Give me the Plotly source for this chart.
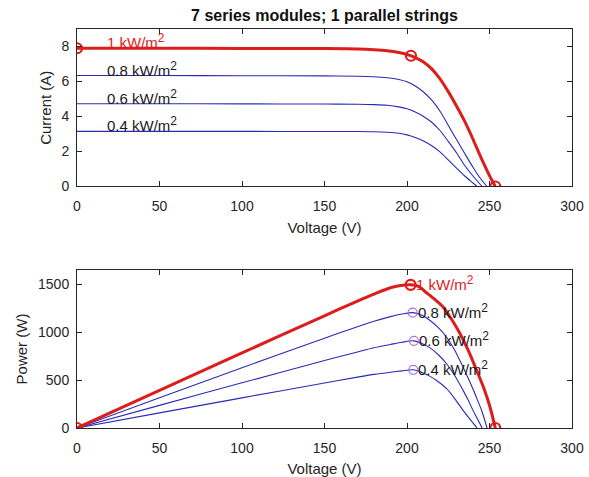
import plotly.graph_objects as go

# ---------------- data ----------------
# I-V curves (top panel)
iv_v_100 = [0, 50, 100, 150, 170, 180, 188, 195, 200, 205, 210, 215, 220, 225, 230, 235, 240, 245, 250, 253.5]
iv_i_100 = [7.9, 7.9, 7.89, 7.88, 7.86, 7.82, 7.76, 7.66, 7.55, 7.37, 7.12, 6.72, 6.15, 5.42, 4.6, 3.72, 2.7, 1.62, 0.62, 0]

iv_v_080 = [0, 50, 100, 150, 170, 180, 188, 195, 200, 205, 210, 215, 220, 225, 230, 235, 240, 244.2, 248.5]
iv_i_080 = [6.34, 6.34, 6.33, 6.32, 6.3, 6.27, 6.21, 6.11, 5.98, 5.74, 5.4, 4.93, 4.3, 3.5, 2.68, 1.88, 1.1, 0.5, 0]

iv_v_060 = [0, 50, 100, 150, 170, 180, 188, 195, 200, 205, 210, 215, 220, 225, 230, 235, 240, 245.5]
iv_i_060 = [4.73, 4.73, 4.72, 4.71, 4.7, 4.68, 4.64, 4.55, 4.44, 4.25, 4.0, 3.67, 3.2, 2.58, 1.93, 1.2, 0.6, 0]

iv_v_040 = [0, 50, 100, 150, 170, 180, 188, 195, 200, 205, 210, 215, 220, 225, 230, 235, 240, 242.5]
iv_i_040 = [3.15, 3.15, 3.15, 3.14, 3.14, 3.13, 3.1, 3.04, 2.95, 2.8, 2.6, 2.33, 1.98, 1.52, 1.05, 0.6, 0.2, 0]

# P-V curves (bottom panel)
pv_v_100 = [0, 50, 100, 150, 170, 180, 190, 196, 202.2, 207, 212, 217, 222, 227, 232, 237, 242, 246.3, 250.3, 253.5]
pv_p_100 = [0, 393, 784, 1172, 1326, 1399, 1465, 1487, 1495, 1478, 1410, 1340, 1262, 1135, 990, 815, 610, 427, 219, 0]

pv_v_080 = [0, 50, 100, 150, 170, 180, 190, 197, 203.4, 209, 214, 219, 224, 229, 234, 238, 242, 245.5, 248.5]
pv_p_080 = [0, 315, 629, 938, 1058, 1114, 1163, 1190, 1205, 1178, 1122, 1047, 948, 810, 635, 485, 323, 170, 0]

pv_v_060 = [0, 50, 100, 150, 170, 180, 190, 197, 204.2, 209, 214, 219, 224, 229, 234, 237, 240, 243, 245.5]
pv_p_060 = [0, 236, 472, 704, 794, 838, 872, 895, 910, 882, 837, 765, 671, 545, 393, 295, 184, 85, 0]

pv_v_040 = [0, 50, 100, 150, 170, 180, 190, 197, 203.8, 209, 214, 219, 224, 229, 234, 238, 242.5]
pv_p_040 = [0, 158, 315, 470, 531, 560, 583, 597, 608, 580, 539, 483, 410, 305, 184, 95, 0]

# marked points
iv_mark_v = [0, 202.4, 253.5]
iv_mark_i = [7.9, 7.47, 0]
pv_mark_v = [0, 202.2, 253.5]
pv_mark_p = [0, 1495, 0]
mpp_v = [203.4, 204.2, 203.8]
mpp_p = [1205, 910, 608]

labels = ["1 kW/m", "0.8 kW/m", "0.6 kW/m", "0.4 kW/m"]
label_v_top = 17
label_i_top = [7.9, 6.34, 4.73, 3.15]
label_v_bot = [202.2, 203.4, 204.2, 203.8]
label_p_bot = [1495, 1205, 910, 608]

title_text = "7 series modules; 1 parallel strings"
x_ticks = [0, 50, 100, 150, 200, 250, 300]
i_ticks = [0, 2, 4, 6, 8]
p_ticks = [0, 500, 1000, 1500]

# ---------------- styling ----------------
RED = "#dd1c1c"
BLUE = "#2a2ab8"
PURPLE = "#b070e0"
AX = "#262626"
FONT = "Liberation Sans, Arial, sans-serif"
SUP = "<sup><span style='font-size:12px'>2</span></sup>"

fig = go.Figure()
LS = dict(shape="spline", smoothing=0.8)

blue_iv = [(iv_v_080, iv_i_080), (iv_v_060, iv_i_060), (iv_v_040, iv_i_040)]
for v, i in blue_iv:
    fig.add_trace(go.Scatter(x=v, y=i, mode="lines", line=dict(color=BLUE, width=1.1, **LS),
                             xaxis="x", yaxis="y", showlegend=False, hoverinfo="skip"))
fig.add_trace(go.Scatter(x=iv_v_100, y=iv_i_100, mode="lines", line=dict(color=RED, width=3, **LS),
                         xaxis="x", yaxis="y", showlegend=False))
fig.add_trace(go.Scatter(x=iv_mark_v, y=iv_mark_i, mode="markers",
                         marker=dict(symbol="circle-open", size=10, color=RED, line=dict(width=2.2, color=RED)),
                         xaxis="x", yaxis="y", showlegend=False))

blue_pv = [(pv_v_080, pv_p_080), (pv_v_060, pv_p_060), (pv_v_040, pv_p_040)]
for v, p in blue_pv:
    fig.add_trace(go.Scatter(x=v, y=p, mode="lines", line=dict(color=BLUE, width=1.1, **LS),
                             xaxis="x2", yaxis="y2", showlegend=False, hoverinfo="skip"))
fig.add_trace(go.Scatter(x=pv_v_100, y=pv_p_100, mode="lines", line=dict(color=RED, width=3, **LS),
                         xaxis="x2", yaxis="y2", showlegend=False))
fig.add_trace(go.Scatter(x=mpp_v, y=mpp_p, mode="markers",
                         marker=dict(symbol="circle-open", size=9, color=PURPLE, line=dict(width=1.2, color=PURPLE)),
                         xaxis="x2", yaxis="y2", showlegend=False))
fig.add_trace(go.Scatter(x=pv_mark_v, y=pv_mark_p, mode="markers",
                         marker=dict(symbol="circle-open", size=10, color=RED, line=dict(width=2.2, color=RED)),
                         xaxis="x2", yaxis="y2", showlegend=False))

annotations = []
for k, (lab, yi) in enumerate(zip(labels, label_i_top)):
    annotations.append(dict(x=label_v_top, y=yi, xref="x", yref="y", text=lab + SUP, showarrow=False,
                            xanchor="left", yanchor="bottom", yshift=-5,
                            font=dict(family=FONT, size=15, color=RED if k == 0 else "#1a1a1a")))
for k, (lab, vx, py) in enumerate(zip(labels, label_v_bot, label_p_bot)):
    annotations.append(dict(x=vx, y=py, xref="x2", yref="y2", text=lab + SUP, showarrow=False,
                            xanchor="left", yanchor="bottom", yshift=-10, xshift=3,
                            font=dict(family=FONT, size=15, color=RED if k == 0 else "#1a1a1a")))

common_x = dict(range=[0, 300], tickvals=x_ticks, ticks="inside", ticklen=5, tickcolor=AX,
                showline=True, linecolor=AX, linewidth=1, mirror="ticks", showgrid=False, zeroline=False,
                tickfont=dict(family=FONT, size=14, color=AX), ticklabelstandoff=7, automargin=False)
common_y = dict(ticks="inside", ticklen=5, tickcolor=AX, showline=True, linecolor=AX, linewidth=1,
                mirror="ticks", showgrid=False, zeroline=False,
                tickfont=dict(family=FONT, size=14, color=AX), ticklabelstandoff=4, automargin=False)

fig.update_layout(
    width=589, height=477, autosize=False,
    margin=dict(l=77, r=17, t=29, b=49),
    paper_bgcolor="white", plot_bgcolor="white",
    title=dict(text="<b>" + title_text + "</b>", x=324.5 / 589, xanchor="center", y=1 - 15 / 477, yanchor="middle",
               font=dict(family=FONT, size=16, color="#111111")),
    xaxis=dict(domain=[0, 1], anchor="y", title=dict(text="Voltage (V)", standoff=9,
                                                     font=dict(family=FONT, size=15, color=AX)), **common_x),
    yaxis=dict(domain=[0.6053, 1], anchor="x", range=[0, 9], tickvals=i_ticks,
               title=dict(text="Current (A)", standoff=6, font=dict(family=FONT, size=15, color=AX)), **common_y),
    xaxis2=dict(domain=[0, 1], anchor="y2", title=dict(text="Voltage (V)", standoff=9,
                                                       font=dict(family=FONT, size=15, color=AX)), **common_x),
    yaxis2=dict(domain=[0, 0.396], anchor="x2", range=[0, 1650], tickvals=p_ticks,
                title=dict(text="Power (W)", standoff=6, font=dict(family=FONT, size=15, color=AX)), **common_y),
    annotations=annotations,
)

fig.write_html("out.html")
